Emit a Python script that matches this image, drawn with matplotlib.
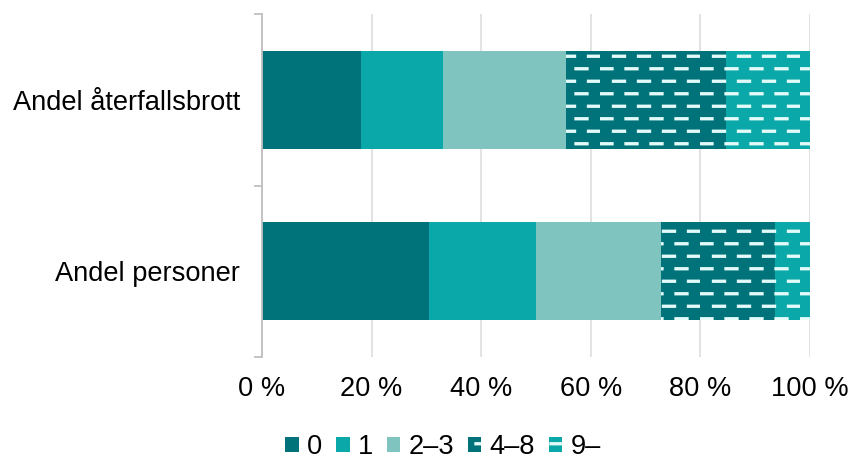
import numpy as np
import matplotlib
matplotlib.use("Agg")
import matplotlib.pyplot as plt
import matplotlib.hatch as mhatch
from matplotlib.path import Path
from matplotlib.ticker import FixedLocator, FuncFormatter

# ---- data ----
categories = ["Andel återfallsbrott", "Andel personer"]
series = ["0", "1", "2–3", "4–8", "9–"]
values_aterfallsbrott = [18.1, 15.0, 22.4, 29.2, 15.3]
values_personer = [30.5, 19.5, 22.8, 20.8, 6.4]
xticks = [0, 20, 40, 60, 80, 100]

# ---- style ----
colors = ["#00727A", "#0AA8A8", "#80C4C0", "#00727A", "#0AA8A8"]
hatches = [None, None, None, "-", "-"]
dash_color = "#E2FAF8"


class DashHatch(mhatch.HatchPatternBase):
    """Dashed horizontal hatch (offset rows of short dashes)."""
    def __init__(self, hatch, density):
        self.on = hatch.count("-") > 0
        self.rows = 8
        self.cols = 4
        self.num_vertices = self.rows * self.cols * 2 if self.on else 0

    def set_vertices_and_codes(self, vertices, codes):
        k = 0
        for r in range(self.rows):
            y = (r + 0.5) / self.rows
            off = 0.125 if r % 2 else 0.0
            for c in range(self.cols):
                x0 = off + c * 0.25 + 0.01
                vertices[k] = (x0, y)
                vertices[k + 1] = (x0 + 0.11, y)
                codes[k] = Path.MOVETO
                codes[k + 1] = Path.LINETO
                k += 2


mhatch._hatch_types = [DashHatch if t is mhatch.HorizontalHatch else t
                       for t in mhatch._hatch_types]

plt.rcParams["font.family"] = ["Liberation Sans", "DejaVu Sans"]
plt.rcParams["hatch.linewidth"] = 2.4
plt.rcParams["hatch.color"] = dash_color

fig = plt.figure(figsize=(8.51, 4.59), dpi=100)
ax = fig.add_axes([262 / 851, 1 - 357 / 459, (810 - 262) / 851, (357 - 14) / 459])

data = np.array([values_aterfallsbrott, values_personer])
ypos = np.arange(len(categories))
left = np.zeros(len(categories))
for i, name in enumerate(series):
    if hatches[i]:
        kw = dict(hatch=hatches[i], edgecolor=dash_color, linewidth=0)
    else:
        kw = dict(linewidth=0)
    ax.barh(ypos, data[:, i], left=left, height=0.573, color=colors[i],
            label=name, zorder=2, **kw)
    left = left + data[:, i]

ax.set_xlim(0, 100)
ax.set_ylim(1.5, -0.5)
ax.xaxis.set_major_locator(FixedLocator(xticks))
ax.xaxis.set_major_formatter(FuncFormatter(lambda v, p: f"{int(v)} %"))
ax.grid(axis="x", color="#E0E0E0", linewidth=1.3, zorder=0)
ax.set_axisbelow(True)

ax.set_yticks(ypos)
ax.set_yticklabels(categories)
ax.yaxis.set_minor_locator(FixedLocator([-0.5, 0.5, 1.5]))
ax.tick_params(axis="y", which="major", length=0, pad=16, labelsize=19.6)
ax.tick_params(axis="y", which="minor", length=6, width=1.3, color="#BFBFBF")
ax.tick_params(axis="x", length=0, pad=14, labelsize=19.6)

for s in ["top", "right", "bottom"]:
    ax.spines[s].set_visible(False)
ax.spines["left"].set_color("#BFBFBF")
ax.spines["left"].set_linewidth(1.3)

fig.legend(loc="center", bbox_to_anchor=(443 / 851, 1 - 447 / 459),
           ncol=5, frameon=False, fontsize=19.6,
           handlelength=0.5, handleheight=0.5, handletextpad=0.3,
           columnspacing=0.5, borderaxespad=0, borderpad=0)

fig.savefig("out.png", dpi=100)
